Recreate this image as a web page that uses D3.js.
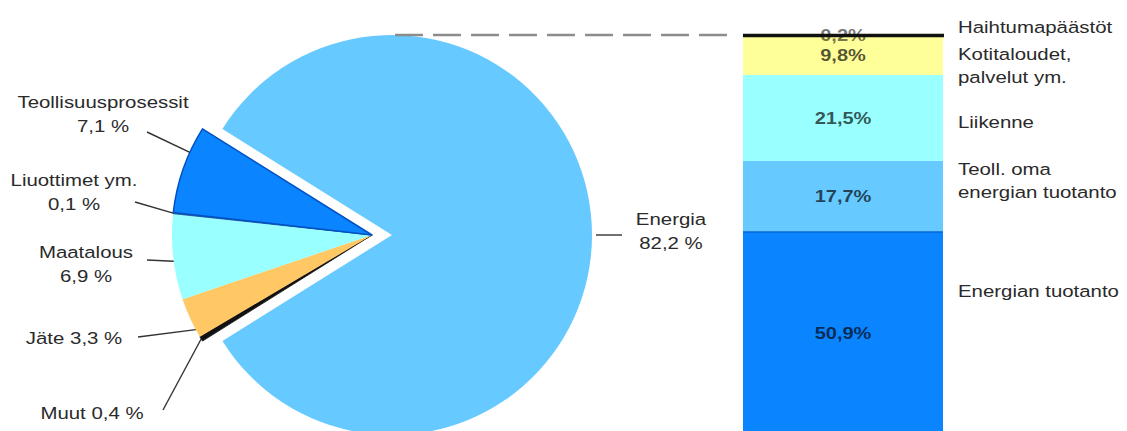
<!DOCTYPE html>
<html>
<head>
<meta charset="utf-8">
<script src="https://cdn.jsdelivr.net/npm/d3@7"></script>
<style>
  html, body { margin: 0; padding: 0; background: #fff; overflow: hidden; }
  svg { display: block; font-family: Arial, "Liberation Sans", sans-serif; }
</style>
</head>
<body>
<svg id="chart" width="1127" height="431"></svg>
<script>
// Päästöt sektoreittain (%), piirakan järjestyksessä myötäpäivään
const pieCategories = ["Energia", "Muut", "Jäte", "Maatalous", "Liuottimet ym.", "Teollisuusprosessit"];
const pieValues = [82.2, 0.4, 3.3, 6.9, 0.1, 7.1];
const pieLabels = [["Energia", "82,2 %"], ["Muut 0,4 %"], ["Jäte 3,3 %"], ["Maatalous", "6,9 %"], ["Liuottimet ym.", "0,1 %"], ["Teollisuusprosessit", "7,1 %"]];

// Energia-sektorin jakautuminen (%), alhaalta ylös
const barCategories = ["Energian tuotanto", "Teoll. oma energian tuotanto", "Liikenne", "Kotitaloudet, palvelut ym.", "Haihtumapäästöt"];
const barValues = [50.9, 17.7, 21.5, 9.8, 0.2];
const barLabels = ["50,9%", "17,7%", "21,5%", "9,8%", "0,2%"];
const barLegend = [["Energian tuotanto"], ["Teoll. oma", "energian tuotanto"], ["Liikenne"], ["Kotitaloudet,", "palvelut ym."], ["Haihtumapäästöt"]];

// Värit
const pieColors = ["#66c9ff", "#111111", "#ffc864", "#99ffff", "#1f4e9c", "#0a84ff"];
const pieStrokes = ["none", "#111111", "none", "none", "#1f4e9c", "#0052c4"];
const barColors = ["#0a84ff", "#66c9ff", "#99ffff", "#ffff99", "#111111"];

// Asettelu
const cx = 392, cy = 235, r = 200, explode = 20;
const labelPos = [[671, 225], [92, 419], [74, 344], [86, 258], [74, 186], [103, 108]];
const leaderEnd = [[622, 235], [163, 410], [138, 337], [147, 260], [135, 202], [147, 132]];
const leaderFrac = [0.5, 0.5, 0.2, 0.45, 0.5, 0.7];
const barX0 = 743, barX1 = 943, barTop = 35, barBottom = 435;
const legendX = 958;
const legendY = [297, 175, 128, 60, 33];
const stretch = 1.2;

const svg = d3.select("#chart");

// ---- Piirakka ----
const total = d3.sum(pieValues);
const start = Math.PI / 2 - Math.PI * pieValues[0] / total;
const pie = d3.pie().sort(null).value(d => d).startAngle(start).endAngle(start + 2 * Math.PI);
const arcs = pie(pieValues);
const arc = d3.arc().innerRadius(0).outerRadius(r);

const offset = i => i === 0 ? [0, 0] : [-explode, 0];

svg.append("g").selectAll("path")
  .data(arcs)
  .join("path")
  .attr("transform", (d, i) => `translate(${cx + offset(i)[0]},${cy + offset(i)[1]})`)
  .attr("d", arc)
  .attr("fill", (d, i) => pieColors[i])
  .attr("stroke", (d, i) => pieStrokes[i])
  .attr("stroke-width", (d, i) => i === 5 ? 1.5 : 0.8)
  .attr("stroke-linejoin", "round");

// Selitteiden viivat
const leaders = svg.append("g").attr("stroke", "#333").attr("stroke-width", 1.4);
arcs.forEach((d, i) => {
  const a = d.startAngle + leaderFrac[i] * (d.endAngle - d.startAngle);
  const [ox, oy] = offset(i);
  const x0 = cx + ox + r * Math.sin(a), y0 = cy + oy - r * Math.cos(a);
  const sx = i === 0 ? x0 + 4 : x0;
  leaders.append("line")
    .attr("x1", sx).attr("y1", y0)
    .attr("x2", leaderEnd[i][0]).attr("y2", leaderEnd[i][1]);
});

// Piirakan tekstit
const textGroup = (x, y, lines, anchor, lineH) => {
  const g = svg.append("g").attr("transform", `translate(${x},${y}) scale(${stretch},1)`);
  lines.forEach((t, k) => {
    g.append("text")
      .attr("x", 0).attr("y", k * lineH)
      .attr("text-anchor", anchor)
      .attr("font-size", 17)
      .attr("fill", "#2a2a2a")
      .text(t);
  });
};
pieLabels.forEach((lines, i) => textGroup(labelPos[i][0], labelPos[i][1], lines, "middle", 24));

// ---- Pinottu pylväs ----
const barTotal = d3.sum(barValues);
const y = d3.scaleLinear().domain([0, barTotal]).range([barBottom, barTop]);
let acc = 0;
const stack = barValues.map((v, i) => { const s = { i, y0: acc, y1: acc + v, v }; acc += v; return s; });

// Katkoviiva piirakasta pylvään yläreunaan
svg.append("line")
  .attr("x1", cx + 3).attr("y1", cy - r)
  .attr("x2", barX0 - 10).attr("y2", y(barTotal))
  .attr("stroke", "#8c8c8c")
  .attr("stroke-width", 2.6)
  .attr("stroke-dasharray", "28 10");

const thick = stack.filter(s => y(s.y0) - y(s.y1) >= 2);
const thin = stack.filter(s => y(s.y0) - y(s.y1) < 2);

svg.append("g").selectAll("rect")
  .data(thick)
  .join("rect")
  .attr("x", barX0)
  .attr("width", barX1 - barX0)
  .attr("y", s => y(s.y1))
  .attr("height", s => y(s.y0) - y(s.y1))
  .attr("fill", s => barColors[s.i]);

// Energian tuotannon yläreuna
svg.append("line")
  .attr("x1", barX0).attr("x2", barX1)
  .attr("y1", y(stack[0].y1) + 0.5).attr("y2", y(stack[0].y1) + 0.5)
  .attr("stroke", "#0566d8").attr("stroke-width", 1.5);

// Prosenttiluvut
stack.forEach(s => {
  const g = svg.append("g")
    .attr("transform", `translate(${(barX0 + barX1) / 2},${(y(s.y0) + y(s.y1)) / 2 + 6}) scale(${stretch + 0.05},1)`);
  g.append("text")
    .attr("text-anchor", "middle")
    .attr("font-size", 16)
    .attr("font-weight", "bold")
    .attr("fill", "#000")
    .attr("fill-opacity", s.i === 4 ? 0.55 : 0.68)
    .text(barLabels[s.i]);
});

// Ohuet osuudet viivana tekstin päälle
thin.forEach(s => {
  const ym = (y(s.y0) + y(s.y1)) / 2;
  svg.append("line")
    .attr("x1", barX0).attr("x2", barX1 + 1)
    .attr("y1", ym).attr("y2", ym)
    .attr("stroke", barColors[s.i])
    .attr("stroke-width", 3.5);
});

// Pylvään selitteet
barLegend.forEach((lines, i) => textGroup(legendX, legendY[i], lines, "start", 23));
</script>
</body>
</html>
